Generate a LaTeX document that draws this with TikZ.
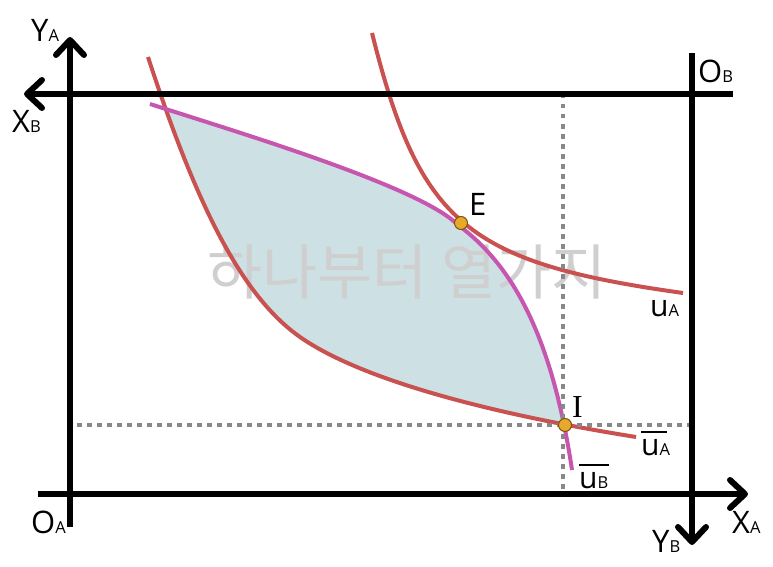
\documentclass[tikz,border=0pt]{standalone}
\usepackage{fontspec}
\setmainfont{Open Sans}
\newfontfamily\krfont{Noto Sans CJK KR}
\newfontfamily\serifI{Liberation Serif}
\usetikzlibrary{arrows.meta}
\definecolor{redc}{HTML}{C9514F}
\definecolor{magc}{HTML}{C656B0}
\definecolor{fillc}{HTML}{CDE0E4}
\definecolor{dotc}{HTML}{888888}
\definecolor{ptc}{HTML}{E8A92A}
\definecolor{ptb}{HTML}{7A5412}
\definecolor{wmc}{HTML}{CFCFCF}
\newcommand\axlab[2]{{\fontsize{31}{31}\selectfont #1}{\fontsize{16.5}{16.5}\selectfont #2}}
\newcommand\ulab[1]{{\fontsize{30}{30}\selectfont u}{\fontsize{16.5}{16.5}\selectfont #1}}
\tikzset{
  axisarrow/.style={line width=6pt,-{Straight Barb[length=15pt,width=28pt,line width=6pt,round]}},
  redcurve/.style={draw=redc,line width=4pt},
  magcurve/.style={draw=magc,line width=4pt},
  dotline/.style={draw=dotc,line width=4pt,dash pattern=on 4.5pt off 5.5pt},
  ptdot/.style={circle,fill=ptc,draw=ptb,line width=1pt,minimum size=13pt,inner sep=0pt},
  lab/.style={anchor=base west,inner sep=0pt,text=black},
}
\begin{document}
\begin{tikzpicture}[x=1pt,y=-1pt]
\useasboundingbox (0,0) rectangle (773,567);
% curve geometry
\def\lowred{(148,57) .. controls (194.5,199.5) and (240,295) .. (300,337) .. controls (360,379) and (486,413) .. (636,437)}
\def\upred{(372,33) .. controls (419.7,223.7) and (466.4,262.7) .. (683,293)}
\def\magpath{(150,104) .. controls (250,136) and (420.5,187.5) .. (458,225) .. controls (518.1,269) and (553.5,347.1) .. (572,470)}
% shaded region between the curves
\begin{scope}
  \clip \magpath -- (140,480) -- (140,104) -- cycle;
  \fill[fillc] \lowred -- (636,30) -- (148,30) -- cycle;
\end{scope}
% watermark
\node[text=wmc,inner sep=0pt] (wm) at (407,272) {\krfont\fontsize{60}{60}\selectfont 하나부터 열가지};
% curves
\draw[redcurve] \lowred;
\draw[redcurve] \upred;
\draw[magcurve] \magpath;
% dotted guides
\coordinate (vtop) at (563,94);
\coordinate (vbot) at (563,494);
\coordinate (hl) at (77,425);
\coordinate (hr) at (692,425);
\draw[dotline] (vtop) -- (vbot);
\draw[dotline] (hl) -- (hr);
% axes
\coordinate (yaB) at (70,527);
\coordinate (yaT) at (70,37);
\coordinate (xaL) at (38,494);
\coordinate (xaR) at (748,494);
\coordinate (xbR) at (733,94);
\coordinate (xbL) at (24,94);
\coordinate (ybT) at (692,53);
\coordinate (ybB) at (692,545);
\draw[axisarrow] (yaB) -- (yaT);
\draw[axisarrow] (xaL) -- (xaR);
\draw[axisarrow] (xbR) -- (xbL);
\draw[axisarrow] (ybT) -- (ybB);
% points
\node[ptdot] (E) at (461,223) {};
\node[ptdot] (I) at (565,425) {};
% labels
\node[lab] (lYA) at (31,42) {\axlab{Y}{A}};
\node[lab] (lXB) at (12,132) {\axlab{X}{B}};
\node[lab] (lOB) at (698,83) {\axlab{O}{B}};
\node[lab] (lOA) at (31,533) {\axlab{O}{A}};
\node[lab] (lYB) at (652,552) {\axlab{Y}{B}};
\node[lab] (lXA) at (732,533) {\axlab{X}{A}};
\node[lab] (lE) at (469,215) {\fontsize{31}{31}\selectfont E};
\node[lab] (lI) at (572,417) {\serifI\fontsize{32}{32}\selectfont I};
\node[lab] (luA) at (650,316) {\ulab{A}};
\node[lab] (lubA) at (641,455) {\ulab{A}};
\node[lab] (lubB) at (579,488) {\ulab{B}};
\draw[line width=2pt] ([yshift=7pt]lubA.north west) -- ([yshift=7pt,xshift=-3pt]lubA.north east);
\draw[line width=2pt] ([yshift=7pt]lubB.north west) -- ([yshift=7pt]lubB.north east);
\end{tikzpicture}
\end{document}
